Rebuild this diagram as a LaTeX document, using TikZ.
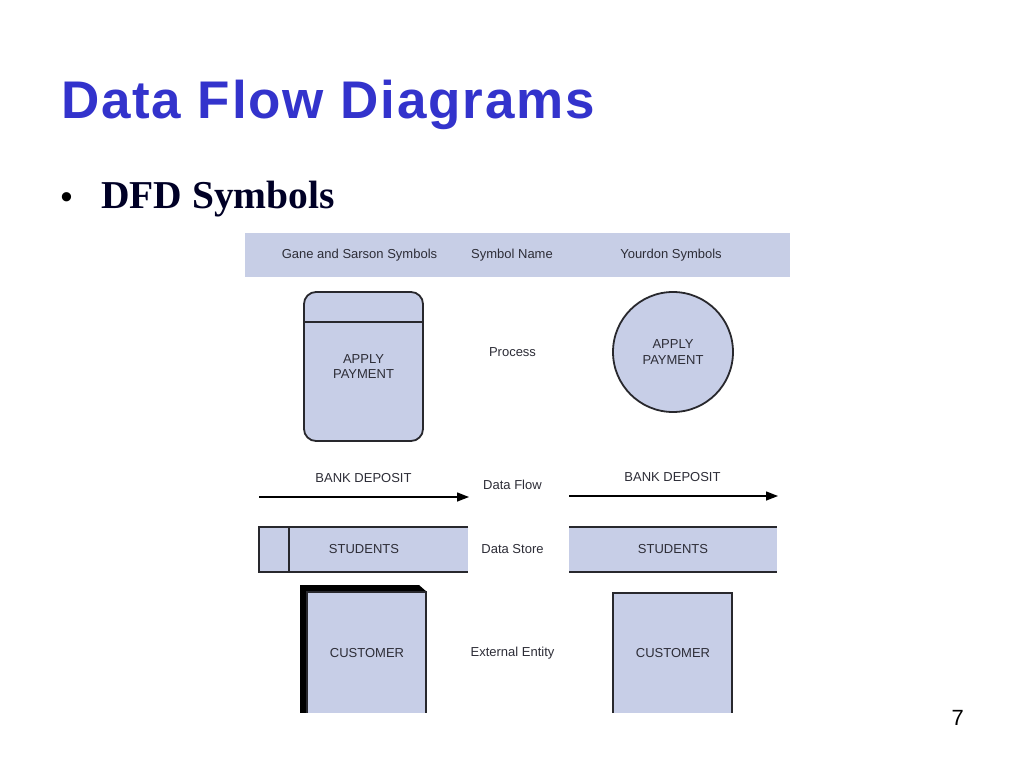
\documentclass[tikz,border=0pt]{standalone}
\usepackage{fontspec}
\setmainfont{Liberation Sans}
\newfontfamily\titlefont[LetterSpace=3.4]{Liberation Sans}
\newfontfamily\serifb{Liberation Serif}
\usetikzlibrary{arrows.meta}
\definecolor{titleblue}{RGB}{51,51,204}
\definecolor{boxfill}{RGB}{199,206,231}
\definecolor{hdrfill}{RGB}{199,206,230}
\definecolor{txt}{RGB}{45,45,55}
\definecolor{edge}{RGB}{40,40,45}
\tikzset{
  lbl/.style={font=\fontsize{13}{15.5}\selectfont, text=txt, inner sep=0pt, align=center},
  lbla/.style={lbl, text height=9.3pt, text depth=0pt},
  symbox/.style={draw=edge, fill=boxfill, line width=1.8pt},
  flow/.style={draw=black, line width=1.4pt, -{Triangle[length=12pt,width=9pt]}},
  storeline/.style={draw=edge, line width=1.8pt}
}
\begin{document}
\begin{tikzpicture}[x=1pt,y=-1pt]
\useasboundingbox (0,0) rectangle (1024,768);
\fill[white] (0,0) rectangle (1024,768);
% title
\node[anchor=base west, inner sep=0pt, text=titleblue, font=\titlefont\bfseries\fontsize{53}{60}\selectfont] (title) at (61,118) {Data Flow Diagrams};
\node[anchor=base west, inner sep=0pt, font=\fontsize{34}{38}\selectfont] (bullet) at (60.5,208) {•};
\node[anchor=base west, inner sep=0pt, text=black!85!blue, font=\serifb\bfseries\fontsize{39.5}{46}\selectfont] (sub) at (101,208) {DFD Symbols};
\node[anchor=base west, inner sep=0pt, font=\fontsize{22}{26}\selectfont] (page) at (951.5,725) {7};
% header band
\fill[hdrfill] (245,233) rectangle (790,277);
\node[lbla] (h1) at (359.5,254) {Gane and Sarson Symbols};
\node[lbla] (h2) at (512,254) {Symbol Name};
\node[lbla] (h3) at (671,254) {Yourdon Symbols};
% process
\draw[symbox, rounded corners=12pt] (304,292) rectangle (423,441);
\draw[storeline] (304,322) -- (423,322);
\node[lbl] (gsproc) at (363.5,366.5) {APPLY\\PAYMENT};
\node[lbla] (procname) at (512.5,352) {Process};
\draw[symbox] (673,352) circle (60);
\node[lbl] (ydproc) at (673,352) {APPLY\\PAYMENT};
% data flow
\node[lbla] (gsflow) at (363.5,478) {BANK DEPOSIT};
\coordinate (gsa) at (259,497);
\coordinate (gsb) at (469,497);
\draw[flow] (gsa) -- (gsb);
\node[lbla] (flowname) at (512.5,485) {Data Flow};
\node[lbla] (ydflow) at (672.5,477) {BANK DEPOSIT};
\coordinate (yda) at (569,496);
\coordinate (ydb) at (778,496);
\draw[flow] (yda) -- (ydb);
% data store
\fill[boxfill] (259,527) rectangle (468,572);
\draw[storeline] (468,527) -- (259,527) -- (259,572) -- (468,572);
\draw[storeline] (289,527) -- (289,572);
\node[lbla] (gsstore) at (364,549) {STUDENTS};
\node[lbla] (storename) at (512.5,549) {Data Store};
\fill[boxfill] (569,527) rectangle (777,572);
\draw[storeline] (569,527) -- (777,527);
\draw[storeline] (569,572) -- (777,572);
\node[lbla] (ydstore) at (673,549) {STUDENTS};
% external entity
\begin{scope}
\clip (245,233) rectangle (790,712);
\fill[black] (300,585) -- (419,585) -- (427,592) -- (307,592) -- (307,720) -- (300,713) -- cycle;
\draw[symbox, line width=1.5pt] (307,592) rectangle (426,730);
\draw[symbox, line width=1.5pt] (613,593) rectangle (732,730);
\end{scope}
\node[lbla] (gsent) at (367,652.5) {CUSTOMER};
\node[lbla] (entname) at (512.5,651.5) {External Entity};
\node[lbla] (ydent) at (673,652.5) {CUSTOMER};
\end{tikzpicture}
\end{document}
